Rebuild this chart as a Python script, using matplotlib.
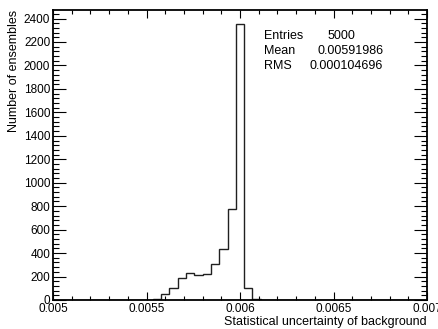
import numpy as np
import matplotlib
matplotlib.use("Agg")
import matplotlib.pyplot as plt
from matplotlib.ticker import MultipleLocator

plt.rcParams['font.family'] = ['Liberation Sans', 'DejaVu Sans']

# histogram: 45 bins between 0.005 and 0.007
x_lo, x_hi, n_bins = 0.005, 0.007, 45
counts = [0, 0, 0, 0, 0, 0, 0, 0, 0, 0, 0, 2,
          10, 50, 100, 185, 233, 213, 221, 305, 431, 780, 2355, 100, 8,
          0, 0, 0, 0, 0, 2, 0, 0, 0, 0, 0, 0, 0, 0, 0, 0, 0, 0, 0, 0]
edges = np.linspace(x_lo, x_hi, n_bins + 1)

stat_names = ["Entries", "Mean", "RMS"]
stat_values = ["5000", "0.00591986", "0.000104696"]

fig = plt.figure(figsize=(4.38, 3.29), dpi=100)
ax = fig.add_axes([53 / 438, 1 - 300 / 329, 374 / 438, 290 / 329])

ax.stairs(counts, edges, color='#202020', lw=1.0, baseline=0)
ax.set_xlim(x_lo, x_hi)
ax.set_ylim(0, 1.05 * max(counts))

for s in ax.spines.values():
    s.set_linewidth(1.3)

ax.xaxis.set_major_locator(MultipleLocator(0.0005))
ax.xaxis.set_minor_locator(MultipleLocator(0.0001))
ax.yaxis.set_major_locator(MultipleLocator(200))
ax.yaxis.set_minor_locator(MultipleLocator(40))
ax.set_xticks([0.005, 0.0055, 0.006, 0.0065, 0.007])
ax.set_xticklabels(["0.005", "0.0055", "0.006", "0.0065", "0.007"])

ax.tick_params(which='both', direction='in', top=True, right=True,
               labelsize=8.5, width=0.8, color='black')
ax.tick_params(axis='x', which='major', length=5.8, pad=2)
ax.tick_params(axis='x', which='minor', length=2.9)
ax.tick_params(axis='y', which='major', length=9.1, pad=2)
ax.tick_params(axis='y', which='minor', length=4.3)

fig.text(427 / 438, 1 - 322 / 329, "Statistical uncertainty of background",
         ha='right', va='center', fontsize=9)
fig.text(14 / 438, 1 - 10 / 329, "Number of ensembles", rotation=90,
         ha='center', va='top', fontsize=9)

# stats box
rows_y = [36, 51.5, 66]
val_x = [328, 317, 310]
for name, val, y, vx in zip(stat_names, stat_values, rows_y, val_x):
    fig.text(264 / 438, 1 - y / 329, name, ha='left', va='center', fontsize=9)
    fig.text(vx / 438, 1 - y / 329, val, ha='left', va='center', fontsize=9)

fig.savefig("out.png", dpi=100)
